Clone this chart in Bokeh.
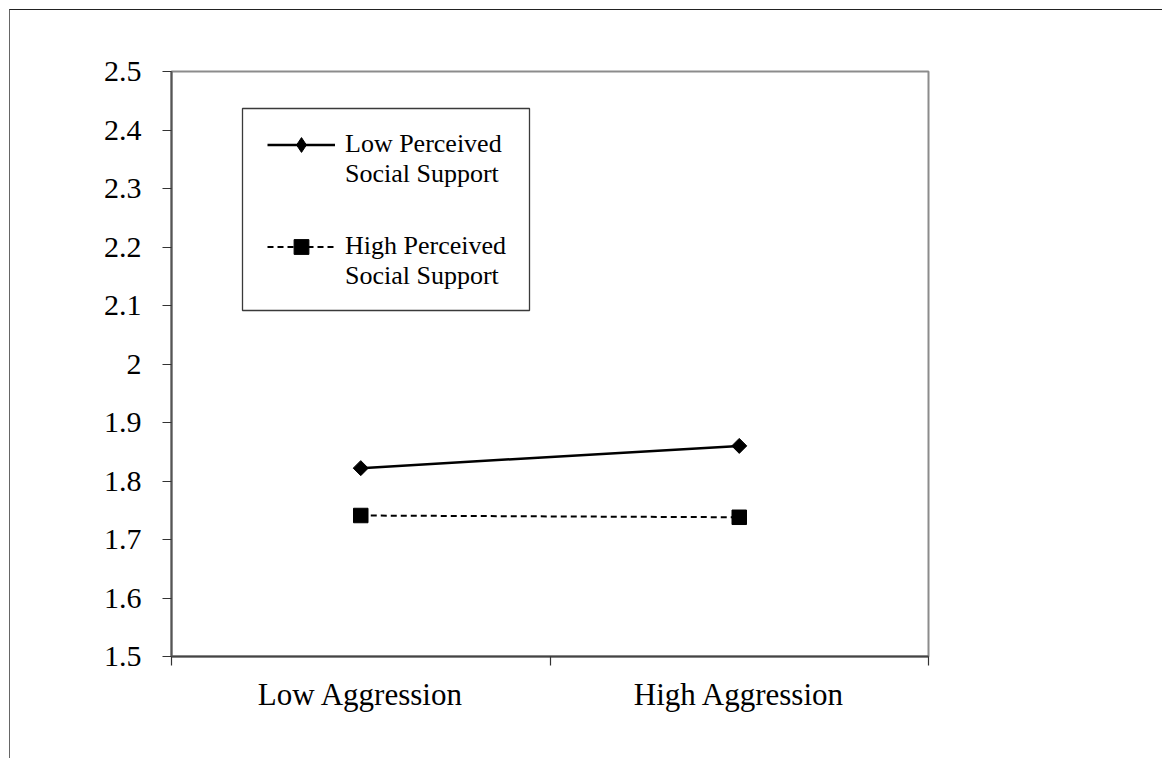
import math
from bokeh.plotting import figure
from bokeh.models import (Range1d, FixedTicker, NumeralTickFormatter, Legend,
                          LegendItem, BoxAnnotation)
from bokeh.embed import file_html
from bokeh.resources import INLINE

# ---- data ----
categories = ["Low Aggression", "High Aggression"]
low_support = [1.822, 1.860]
high_support = [1.741, 1.738]
series_names = ["Low Perceived\nSocial Support", "High Perceived\nSocial Support"]
y_ticks = [1.5, 1.6, 1.7, 1.8, 1.9, 2.0, 2.1, 2.2, 2.3, 2.4, 2.5]

x_pos = [i + 0.5 for i in range(len(categories))]
boundaries = list(range(len(categories) + 1))

FONT = "Liberation Serif"

p = figure(width=1153, height=749, output_backend="svg", toolbar_location=None,
           x_range=Range1d(0, len(categories)), y_range=Range1d(y_ticks[0], y_ticks[-1]),
           min_border_left=161, min_border_top=61, min_border_right=235,
           min_border_bottom=103)
# outer chart-area border (left / top visible; right / bottom fall outside the picture)
p.margin = (9, 0, 0, 9)
p.styles = {"border-left": "1.5px solid #666666", "border-top": "1.5px solid #222222"}

p.xgrid.visible = False
p.ygrid.visible = False
p.outline_line_color = "#8c8c8c"
p.outline_line_width = 2

# y axis
p.yaxis.ticker = FixedTicker(ticks=y_ticks)
p.yaxis.formatter = NumeralTickFormatter(format="0.[0]")
p.yaxis.major_tick_out = 9
p.yaxis.major_tick_in = 0
p.yaxis.minor_tick_line_color = None
p.yaxis.major_label_standoff = 21
p.yaxis.axis_line_color = "#555555"
p.yaxis.axis_line_width = 2
p.yaxis.major_tick_line_color = "#333333"
p.yaxis.major_tick_line_width = 1.2
p.yaxis.major_label_text_font_size = "30px"

# x axis: labels at category centres, ticks at category boundaries
p.xaxis.ticker = FixedTicker(ticks=x_pos, minor_ticks=boundaries)
p.xaxis.major_label_overrides = {x: c for x, c in zip(x_pos, categories)}
p.xaxis.major_tick_line_color = None
p.xaxis.major_tick_out = 9
p.xaxis.major_tick_in = 0
p.xaxis.minor_tick_out = 9
p.xaxis.minor_tick_in = 0
p.xaxis.minor_tick_line_color = "#333333"
p.xaxis.minor_tick_line_width = 1.2
p.xaxis.major_label_standoff = 11
p.xaxis.axis_line_color = "#444444"
p.xaxis.axis_line_width = 2
p.xaxis.major_label_text_font_size = "31px"

for ax in (p.xaxis[0], p.yaxis[0]):
    ax.major_label_text_font = FONT
    ax.major_label_text_color = "black"

# series
r1 = p.line(x_pos, low_support, line_color="black", line_width=2.5)
m1 = p.scatter(x_pos, low_support, marker="square", angle=math.pi / 4, size=10.6,
               fill_color="black", line_color="black")
m1_key = p.scatter(x_pos, low_support, marker="diamond", size=15,
                   fill_color="black", line_color="black", visible=False)
r2 = p.line(x_pos, high_support, line_color="black", line_width=2, line_dash="6 4")
m2 = p.scatter(x_pos, high_support, marker="square", size=14.5,
               fill_color="black", line_color="black")

# legend box (drawn separately so the key glyph can sit on the first text line)
legend_box = BoxAnnotation(left=71, right=358, top=548, bottom=346,
                           left_units="screen", right_units="screen",
                           top_units="screen", bottom_units="screen",
                           fill_color="white", fill_alpha=1,
                           line_color="#3a3a3a", line_alpha=1, line_width=1.3,
                           level="annotation")
p.add_layout(legend_box)

legend = Legend(items=[LegendItem(label="\n" + series_names[0], renderers=[r1, m1_key]),
                       LegendItem(label="\n" + series_names[1], renderers=[r2, m2])],
                location=(96, 365), glyph_width=68, glyph_height=37,
                label_text_font=FONT, label_text_font_size="26px",
                label_text_color="black",
                label_standoff=10, padding=0, spacing=12, margin=0,
                border_line_color=None, background_fill_alpha=0)
p.add_layout(legend)

open("out.html", "w").write(file_html(p, INLINE))
